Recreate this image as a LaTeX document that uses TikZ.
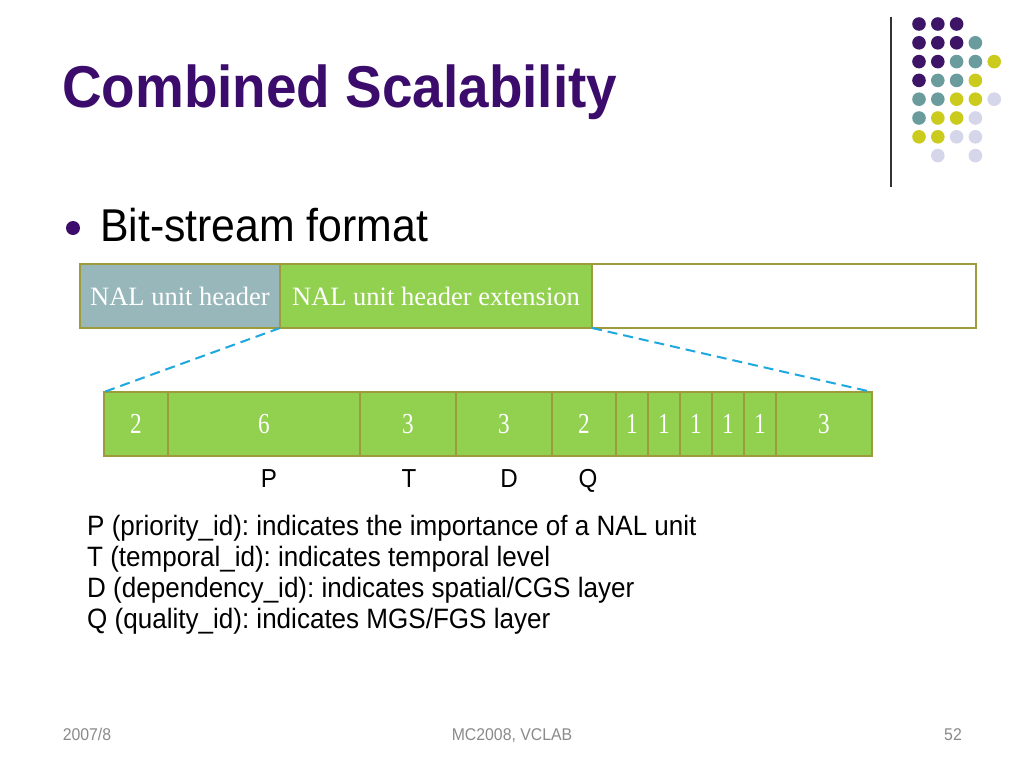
\documentclass[tikz,border=0pt]{standalone}
\usepackage{fontspec}
\setmainfont[FakeStretch=0.93]{Liberation Sans}
\newfontfamily\serifnal{Liberation Serif}
\newfontfamily\serifnum[FakeStretch=0.8]{Liberation Serif}
\usetikzlibrary{positioning}
\frenchspacing
\definecolor{titlepurple}{HTML}{3B0C6B}
\definecolor{dotpurple}{HTML}{3D1466}
\definecolor{dotteal}{HTML}{6A9C9E}
\definecolor{dotyellow}{HTML}{CBCB1E}
\definecolor{dotlav}{HTML}{D6D6EA}
\definecolor{hdrfill}{HTML}{98B7BB}
\definecolor{grn}{HTML}{92D050}
\definecolor{olive}{HTML}{9C9C3C}
\definecolor{dashblue}{HTML}{1EA8E0}
\definecolor{footgray}{HTML}{8A8A8A}
\tikzset{
  boxstyle/.style={draw=olive, line width=1.3pt, minimum height=64pt, inner sep=0pt, outer sep=0pt, text=white},
  nalfont/.style={font=\serifnal\fontsize{26.5}{28}\selectfont},
  numfont/.style={font=\serifnum\fontsize{29}{31}\selectfont},
  zoomline/.style={draw=dashblue, line width=2pt, dash pattern=on 10pt off 6pt},
  bodytext/.style={anchor=base west, inner sep=0pt, font=\fontsize{28}{30}\selectfont},
  lbl/.style={anchor=base, inner sep=0pt, font=\fontsize{26}{28}\selectfont},
  foot/.style={anchor=base, inner sep=0pt, text=footgray, font=\fontsize{17}{19}\selectfont},
  dotstyle/.style={radius=6.8pt}
}
\begin{document}
\begin{tikzpicture}[x=1pt,y=-1pt]
\useasboundingbox[fill=white] (0,0) rectangle (1024,768);
% title
\node[anchor=base west, inner sep=0pt, text=titlepurple, font=\bfseries\fontsize{59}{62}\selectfont] (title) at (62,107) {Combined Scalability};
% decoration: vertical line and dots
\draw[line width=1.3pt, draw=black!80] (891,17) coordinate (vtop) -- (891,187) coordinate (vbot);
\foreach \i/\row/\col in {
  0/0/dotpurple,1/0/dotpurple,2/0/dotpurple,
  0/1/dotpurple,1/1/dotpurple,2/1/dotpurple,3/1/dotteal,
  0/2/dotpurple,1/2/dotpurple,2/2/dotteal,3/2/dotteal,4/2/dotyellow,
  0/3/dotpurple,1/3/dotteal,2/3/dotteal,3/3/dotyellow,
  0/4/dotteal,1/4/dotteal,2/4/dotyellow,3/4/dotyellow,4/4/dotlav,
  0/5/dotteal,1/5/dotyellow,2/5/dotyellow,3/5/dotlav,
  0/6/dotyellow,1/6/dotyellow,2/6/dotlav,3/6/dotlav,
  1/7/dotlav,3/7/dotlav}{
  \fill[\col] (919+18.8*\i, 24+18.8*\row) circle[dotstyle];
}
% bullet
\fill[titlepurple] (73,228) circle[radius=7pt];
\node[anchor=base west, inner sep=0pt, font=\fontsize{46}{48}\selectfont] (bullet) at (100,241) {Bit-stream format};
% top boxes
\node[boxstyle, fill=hdrfill, minimum width=200pt, nalfont] (hdr) at (180,296) {NAL unit header};
\node[boxstyle, fill=grn, minimum width=312pt, nalfont] (ext) at (436,296) {NAL unit header extension};
\node[boxstyle, fill=white, minimum width=384pt] (pay) at (784,296) {};
% field boxes
\node[boxstyle, fill=grn, minimum width=64pt, numfont] (f1) at (136,424) {2};
\node[boxstyle, fill=grn, minimum width=192pt, numfont] (f2) at (264,424) {6};
\node[boxstyle, fill=grn, minimum width=96pt, numfont] (f3) at (408,424) {3};
\node[boxstyle, fill=grn, minimum width=96pt, numfont] (f4) at (504,424) {3};
\node[boxstyle, fill=grn, minimum width=64pt, numfont] (f5) at (584,424) {2};
\node[boxstyle, fill=grn, minimum width=32pt, numfont] (f6) at (632,424) {1};
\node[boxstyle, fill=grn, minimum width=32pt, numfont] (f7) at (664,424) {1};
\node[boxstyle, fill=grn, minimum width=32pt, numfont] (f8) at (696,424) {1};
\node[boxstyle, fill=grn, minimum width=32pt, numfont] (f9) at (728,424) {1};
\node[boxstyle, fill=grn, minimum width=32pt, numfont] (f10) at (760,424) {1};
\node[boxstyle, fill=grn, minimum width=96pt, numfont] (f11) at (824,424) {3};
% dashed zoom lines
\draw[zoomline] (hdr.south east) -- (f1.north west);
\draw[zoomline] (ext.south east) -- (f11.north east);
% labels
\node[lbl] (lP) at (269,487) {P};
\node[lbl] (lT) at (409,487) {T};
\node[lbl] (lD) at (509,487) {D};
\node[lbl] (lQ) at (588,487) {Q};
% description
\node[bodytext] (d1) at (87,535) {P (priority\_id): indicates the importance of a NAL unit};
\node[bodytext] (d2) at (87,566) {T (temporal\_id): indicates temporal level};
\node[bodytext] (d3) at (87,597) {D (dependency\_id): indicates spatial/CGS layer};
\node[bodytext] (d4) at (87,628) {Q (quality\_id): indicates MGS/FGS layer};
% footer
\node[foot] (fl) at (87,740) {2007/8};
\node[foot] (fc) at (512,740) {MC2008, VCLAB};
\node[foot] (fr) at (953,740) {52};
\end{tikzpicture}
\end{document}
